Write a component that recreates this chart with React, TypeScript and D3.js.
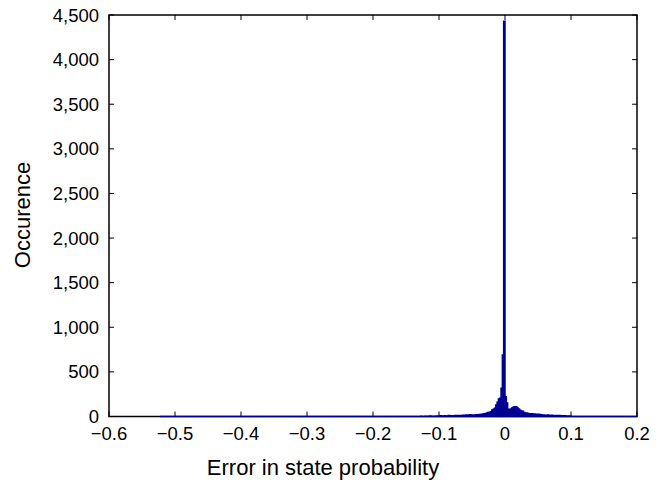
import React from "react";
import * as d3 from "d3";

// Histogram data (bin width 0.002, starting at histStart)
const histStart = -0.13;
const binWidth = 0.002;
const binCounts = [
  0, 3, 0, 0, 4, 0, 2, 0, 5, 0, 3, 4, 0, 5, 3,
  5, 8, 4, 6, 9, 5, 7, 10, 6, 8, 9, 7, 10, 8, 11, 9, 12, 10, 13, 15,
  18, 14, 17, 19, 16, 18, 15, 17, 20, 18, 22, 20, 25, 28, 30,
  35, 40, 45, 47, 52, 73, 80, 92, 129, 160, 196, 204, 316, 690, 4430,
  222, 150, 80, 75, 84, 95, 105, 110, 108, 95, 85, 70, 62, 58, 45,
  40, 38, 35, 30, 28, 30, 26, 28, 25, 24, 25, 22, 20, 18, 16,
  15, 14, 16, 13, 12, 14, 11, 12, 10, 11, 9, 10, 8, 9, 7, 8, 6, 7, 5, 6,
];
const dataMin = -0.5225;
const dataMax = 0.2;

const xTicks = [-0.6, -0.5, -0.4, -0.3, -0.2, -0.1, 0, 0.1, 0.2];
const yTicks = [0, 500, 1000, 1500, 2000, 2500, 3000, 3500, 4000, 4500];

const xLabel = "Error in state probability";
const yLabel = "Occurence";

export default function App() {
  const W = 662, H = 485;
  const left = 109, right = 637, top = 15, bottom = 416.5;
  const x = d3.scaleLinear().domain([-0.6, 0.2]).range([left, right]);
  const y = d3.scaleLinear().domain([0, 4500]).range([bottom, top]);

  const pts: [number, number][] = [];
  pts.push([x(dataMin), y(0)]);
  pts.push([x(histStart), y(0)]);
  binCounts.forEach((c, i) => {
    const x0 = histStart + i * binWidth;
    const x1 = x0 + binWidth;
    pts.push([x(x0), y(c)]);
    pts.push([x(x1), y(c)]);
  });
  const lastEdge = histStart + binCounts.length * binWidth;
  pts.push([x(lastEdge), y(0)]);
  pts.push([x(dataMax), y(0)]);
  const d = d3.line()(pts) + "Z";

  const fs = 18.5;
  const fsLabel = 22;
  const font = "'Liberation Sans', Arial, Helvetica, sans-serif";
  const tickLen = 5;
  const fmtX = (v: number) => (v === 0 ? "0" : d3.format(".1f")(v).replace("-", "\u2212"));
  const fmtY = d3.format(",");

  return (
    <svg width={W} height={H} style={{ position: "absolute", left: 0, top: 0, background: "#fff" }}>
      <rect x={0} y={0} width={W} height={H} fill="#fff" />
      <rect x={left} y={top} width={right - left} height={bottom - top} fill="#fff" stroke="#000" strokeWidth={1.5} />
      {xTicks.map((t) => (
        <g key={"xt" + t}>
          <line x1={x(t)} x2={x(t)} y1={bottom} y2={bottom - tickLen} stroke="#000" strokeWidth={1} />
          <line x1={x(t)} x2={x(t)} y1={top} y2={top + tickLen} stroke="#000" strokeWidth={1} />
        </g>
      ))}
      {yTicks.map((t) => (
        <g key={"yt" + t}>
          <line x1={left} x2={left + tickLen} y1={y(t)} y2={y(t)} stroke="#000" strokeWidth={1} />
          <line x1={right} x2={right - tickLen} y1={y(t)} y2={y(t)} stroke="#000" strokeWidth={1} />
        </g>
      ))}
      <path d={d} fill="#000090" stroke="#000090" strokeWidth={1.5} strokeLinejoin="miter" />
      {xTicks.map((t) => (
        <text key={"xl" + t} x={x(t)} y={bottom + 23.5} textAnchor="middle" fontFamily={font} fontSize={fs} fill="#000">
          {fmtX(t)}
        </text>
      ))}
      {yTicks.map((t) => (
        <text key={"yl" + t} x={left - 10} y={y(t) + 6.5} textAnchor="end" fontFamily={font} fontSize={fs} fill="#000">
          {fmtY(t)}
        </text>
      ))}
      <text x={323} y={475} textAnchor="middle" fontFamily={font} fontSize={fsLabel} fill="#000">
        {xLabel}
      </text>
      <text transform={`translate(30, 215) rotate(-90)`} textAnchor="middle" fontFamily={font} fontSize={fsLabel} fill="#000">
        {yLabel}
      </text>
    </svg>
  );
}
